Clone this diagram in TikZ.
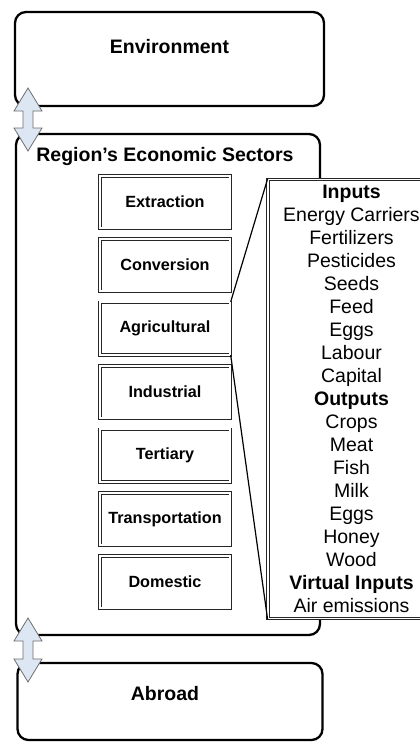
\documentclass[tikz,border=0pt]{standalone}
\usepackage{fontspec}
\setmainfont{Liberation Sans}
\definecolor{arrowfill}{RGB}{221,231,243}
\definecolor{arrowline}{RGB}{110,110,110}
\begin{document}
\begin{tikzpicture}[x=1pt,y=-1pt,
  bigbox/.style={draw=black, line width=2.3pt, rounded corners=11pt, inner sep=0pt},
  titletext/.style={font=\fontsize{19.5}{23}\selectfont\bfseries, inner sep=0pt},
  sector/.style={draw=black!85, line width=0.9pt, double=white, double distance=1.7pt,
    fill=white, minimum width=130.5pt, minimum height=52.5pt, inner sep=0pt,
    font=\fontsize{16.2}{19}\selectfont\bfseries},
  calloutbox/.style={draw=black!85, line width=0.9pt, double=white, double distance=1.7pt,
    fill=white, minimum width=167pt, minimum height=439pt, inner sep=0pt, align=center,
    font=\fontsize{19.5}{23}\selectfont},
  callline/.style={draw=black, line width=1.2pt},
  blockarrow/.style={draw=arrowline, line width=0.8pt, fill=arrowfill, line join=miter}
]
\path[use as bounding box] (0,0) rectangle (420,742);
\clip (0,0) rectangle (420,742);

% big containers
\node[bigbox, minimum width=309pt, minimum height=94pt] (env) at (169.5,59) {};
\node[titletext] (envtext) at (169.5,47) {Environment};

\node[bigbox, minimum width=304pt, minimum height=501pt] (region) at (168,384.5) {};
\node[titletext] (regtext) at (165,156) {Region’s Economic Sectors};

\node[bigbox, minimum width=305pt, minimum height=77pt] (abroad) at (170,701.5) {};
\node[titletext] (abrtext) at (165,694) {Abroad};

% sectors
\node[sector] (extr) at (165,202) {Extraction};
\node[sector] (conv) at (165,265) {Conversion};
\node[sector] (agri) at (165,328.5) {Agricultural};
\node[sector] (indu) at (165,392) {Industrial};
\node[sector] (tert) at (165,455.5) {Tertiary};
\node[sector] (tran) at (165,519) {Transportation};
\node[sector] (dome) at (165,582) {Domestic};

% callout
\node[calloutbox] (cbox) at (351.5,399) {%
\textbf{Inputs}\\ Energy Carriers\\ Fertilizers\\ Pesticides\\ Seeds\\ Feed\\ Eggs\\ Labour\\ Capital\\
\textbf{Outputs}\\ Crops\\ Meat\\ Fish\\ Milk\\ Eggs\\ Honey\\ Wood\\
\textbf{Virtual Inputs}\\ Air emissions};
\draw[callline] (agri.north east) -- (cbox.north west);
\draw[callline] (agri.south east) -- (cbox.south west);

% block arrows
\coordinate (a1) at (28,88);
\coordinate (b1) at (28,151);
\draw[blockarrow] (a1) -- ++(14,23) -- ++(-9,0) -- ++(0,17) -- ++(9,0) -- (b1)
  -- ++(-14,-23) -- ++(9,0) -- ++(0,-17) -- ++(-9,0) -- cycle;
\coordinate (a2) at (28,618);
\coordinate (b2) at (28,682);
\draw[blockarrow] (a2) -- ++(14,23) -- ++(-9,0) -- ++(0,18) -- ++(9,0) -- (b2)
  -- ++(-14,-23) -- ++(9,0) -- ++(0,-18) -- ++(-9,0) -- cycle;
\end{tikzpicture}
\end{document}
